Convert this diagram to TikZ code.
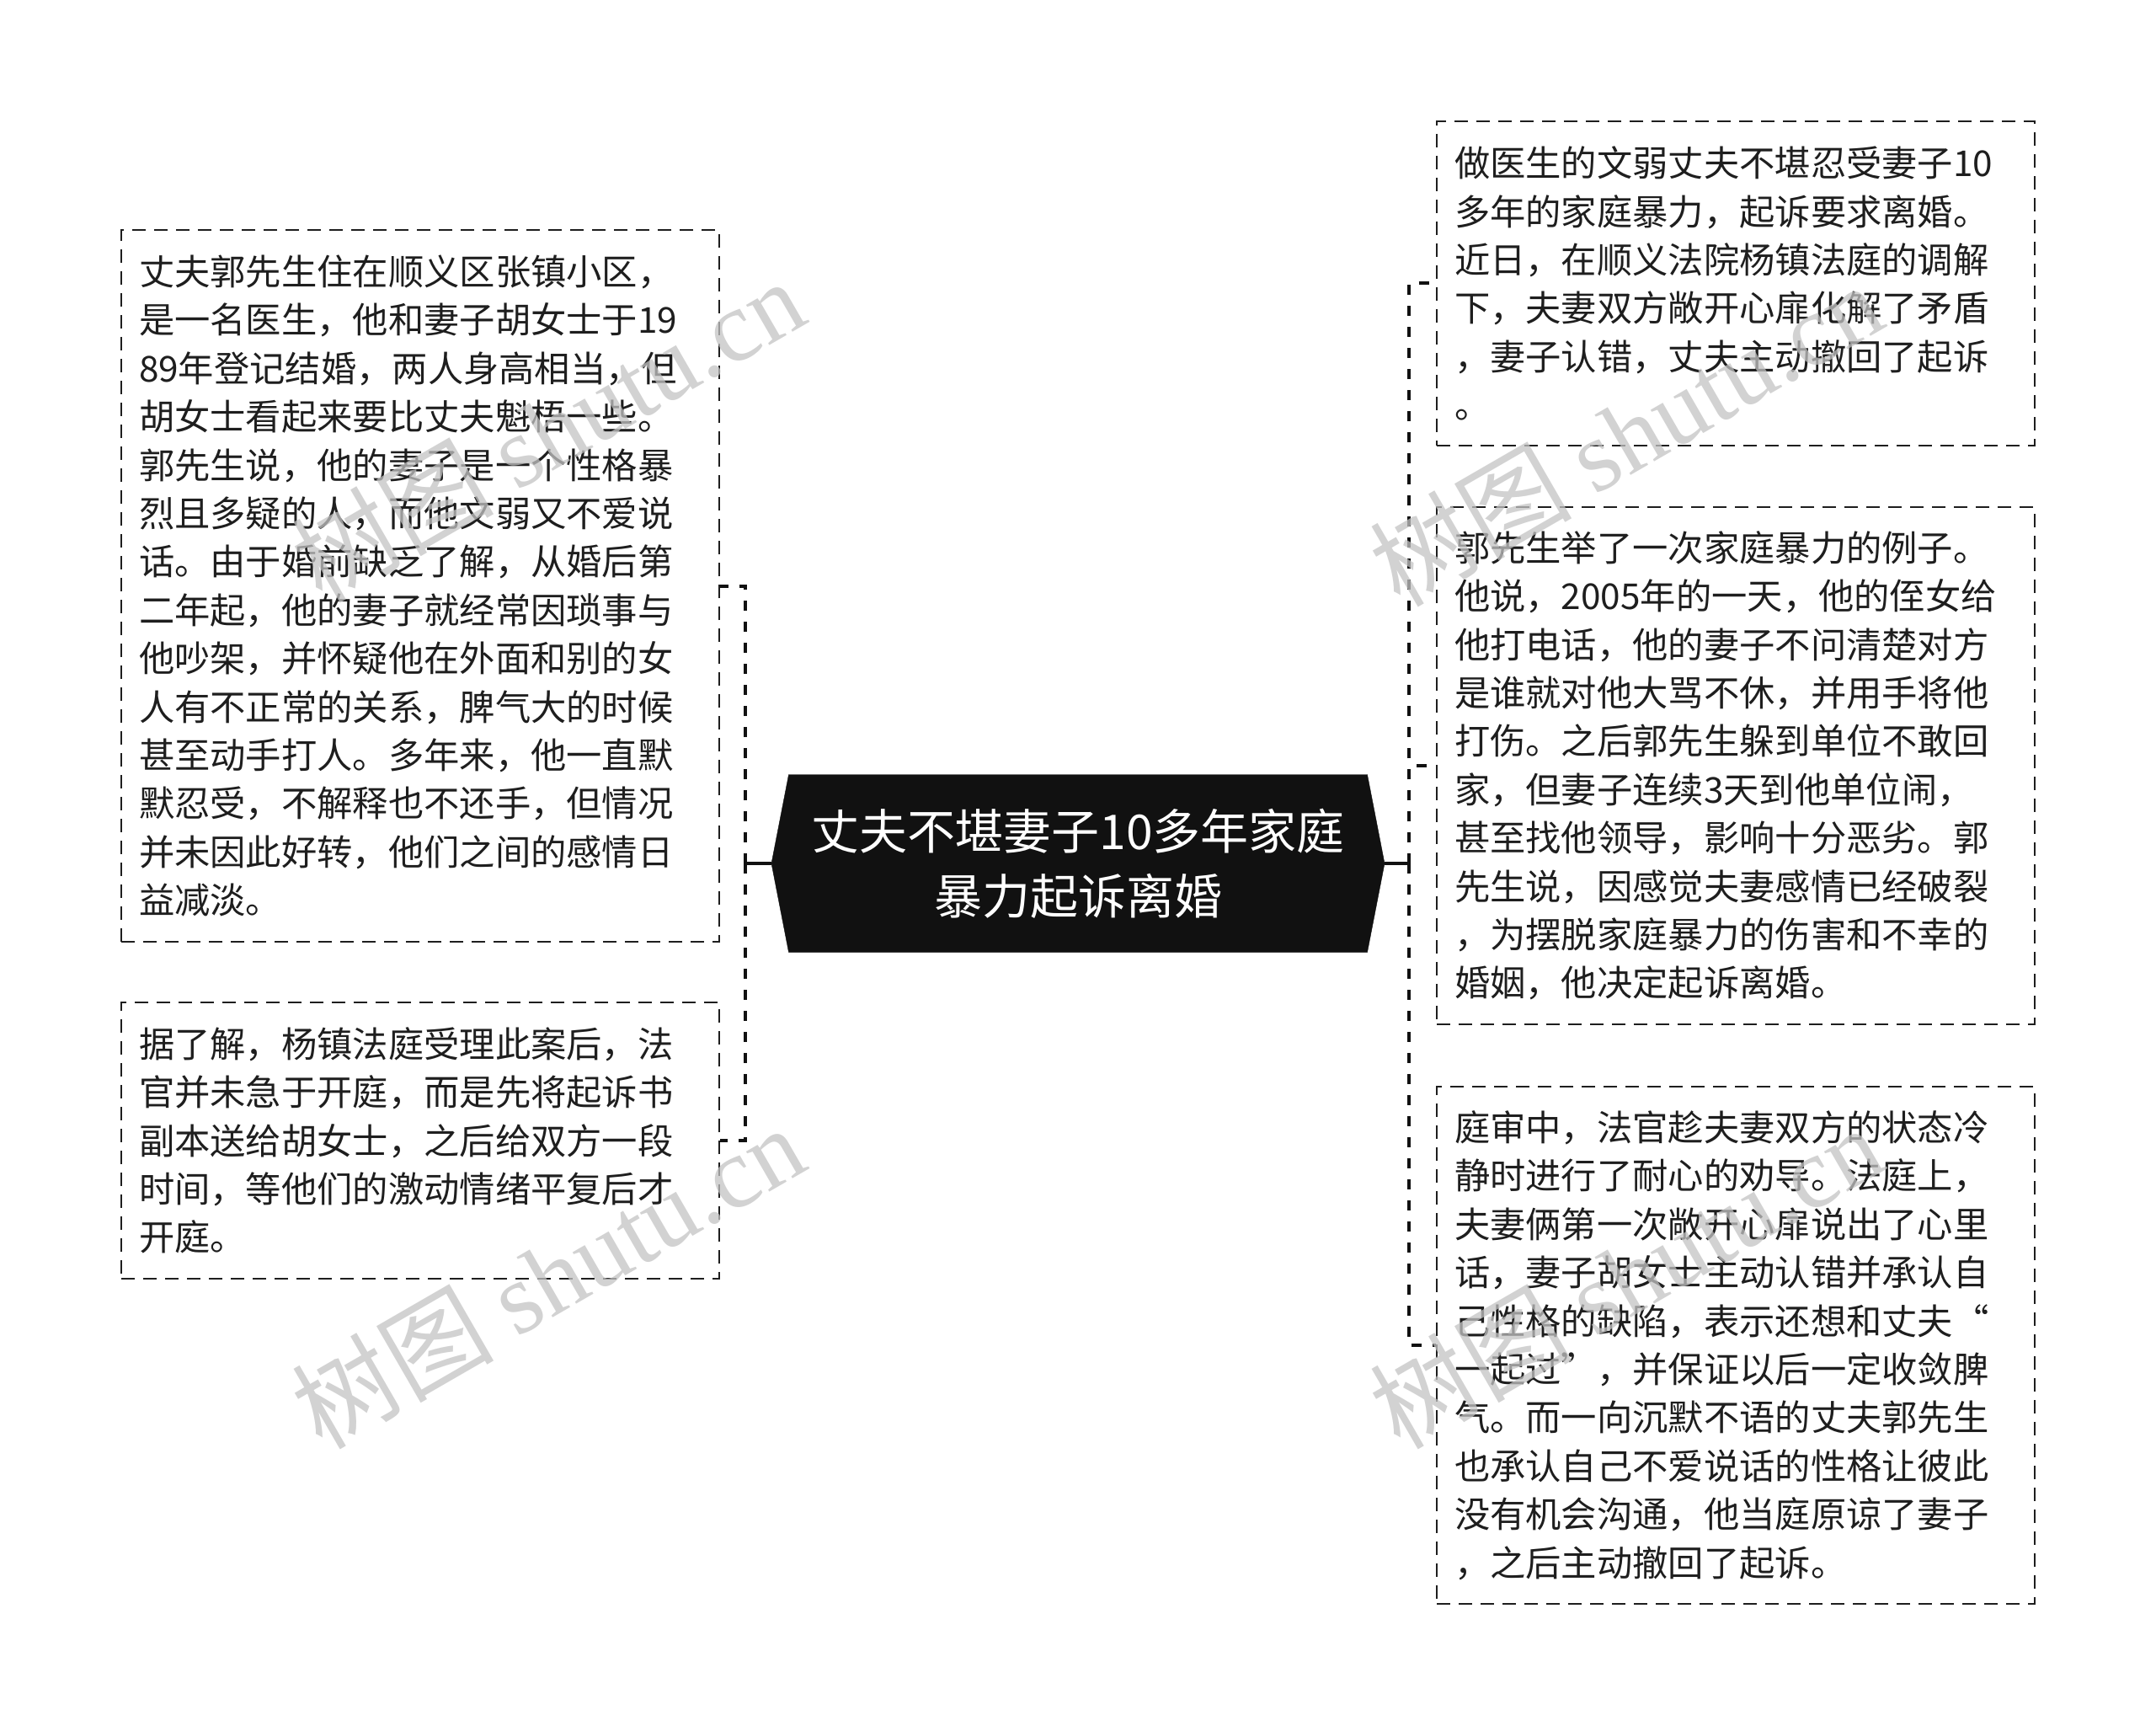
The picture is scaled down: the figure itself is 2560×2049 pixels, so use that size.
\documentclass[tikz,border=0pt]{standalone}
\usepackage{fontspec}
\setmainfont{Noto Sans CJK SC}
\newfontfamily\wmfont{Liberation Serif}
\usepackage{tikz}
\usetikzlibrary{shapes.symbols, positioning}
\definecolor{mydark}{RGB}{17,17,17}
\definecolor{myink}{RGB}{30,30,30}
\definecolor{mymark}{RGB}{195,195,195}
\tikzset{
  leaf/.style={rectangle, draw=myink, dash pattern=on 16pt off 10pt, line width=2.6pt,
    minimum width=710pt, text width=668pt, inner xsep=21pt, inner ysep=0pt,
    align=left, text=myink, font=\fontsize{42.3}{57.4}\selectfont},
  hub/.style={signal, signal to=west and east, signal pointer angle=158,
    fill=mydark, draw=mydark, minimum width=728pt, minimum height=211pt,
    text=white, align=center, font=\fontsize{57}{77}\selectfont},
  bus/.style={line width=4pt, color=mydark, dash pattern=on 12pt off 13pt},
  stub/.style={line width=4.5pt, color=mydark},
  wmark/.style={text=mymark, opacity=0.75, rotate=30, font=\fontsize{120}{120}\selectfont}
}

\begin{document}
\begin{tikzpicture}[x=1pt, y=-1pt]
  \useasboundingbox[fill=white] (0,0) rectangle (2560,2049);

  % Centre
  \node[hub] (hub) at (1280,1025) {丈夫不堪妻子10多年家庭\\暴力起诉离婚};

  % Left side
  \node[leaf, minimum height=845pt] (l1) at (499,695.5) {丈夫郭先生住在顺义区张镇小区，\\是一名医生，他和妻子胡女士于19\\89年登记结婚，两人身高相当，但\\胡女士看起来要比丈夫魁梧一些。\\郭先生说，他的妻子是一个性格暴\\烈且多疑的人，而他文弱又不爱说\\话。由于婚前缺乏了解，从婚后第\\二年起，他的妻子就经常因琐事与\\他吵架，并怀疑他在外面和别的女\\人有不正常的关系，脾气大的时候\\甚至动手打人。多年来，他一直默\\默忍受，不解释也不还手，但情况\\并未因此好转，他们之间的感情日\\益减淡。};
  \node[leaf, minimum height=328pt] (l2) at (499,1354) {据了解，杨镇法庭受理此案后，法\\官并未急于开庭，而是先将起诉书\\副本送给胡女士，之后给双方一段\\时间，等他们的激动情绪平复后才\\开庭。};

  % Right side
  \node[leaf, minimum height=385pt] (r1) at (2061,336.5) {做医生的文弱丈夫不堪忍受妻子10\\多年的家庭暴力，起诉要求离婚。\\近日，在顺义法院杨镇法庭的调解\\下，夫妻双方敞开心扉化解了矛盾\\，妻子认错，丈夫主动撤回了起诉\\。};
  \node[leaf, minimum height=614pt] (r2) at (2061,909) {郭先生举了一次家庭暴力的例子。\\他说，2005年的一天，他的侄女给\\他打电话，他的妻子不问清楚对方\\是谁就对他大骂不休，并用手将他\\打伤。之后郭先生躲到单位不敢回\\家，但妻子连续3天到他单位闹，\\甚至找他领导，影响十分恶劣。郭\\先生说，因感觉夫妻感情已经破裂\\，为摆脱家庭暴力的伤害和不幸的\\婚姻，他决定起诉离婚。};
  \node[leaf, minimum height=614pt] (r3) at (2061,1597) {庭审中，法官趁夫妻双方的状态冷\\静时进行了耐心的劝导。法庭上，\\夫妻俩第一次敞开心扉说出了心里\\话，妻子胡女士主动认错并承认自\\己性格的缺陷，表示还想和丈夫“\\一起过”，并保证以后一定收敛脾\\气。而一向沉默不语的丈夫郭先生\\也承认自己不爱说话的性格让彼此\\没有机会沟通，他当庭原谅了妻子\\，之后主动撤回了起诉。};

  % Connectors
  \coordinate (lbus) at (885,1025);
  \coordinate (rbus) at (1673,1025);
  \draw[stub] (hub.west) -- (lbus);
  \draw[stub] (hub.east) -- (rbus);
  \draw[bus] (lbus) |- (l1.east);
  \draw[bus] (lbus) |- (l2.east);
  \draw[bus] (rbus) |- (r1.west);
  \draw[bus] (rbus) |- (r2.west);
  \draw[bus] (rbus) |- (r3.west);

  % Watermarks
  \node[wmark] (w1) at (650,510) {树图 {\wmfont shutu.cn}};
  \node[wmark] (w2) at (650,1515) {树图 {\wmfont shutu.cn}};
  \node[wmark] (w3) at (1930,515) {树图 {\wmfont shutu.cn}};
  \node[wmark] (w4) at (1930,1515) {树图 {\wmfont shutu.cn}};
\end{tikzpicture}
\end{document}
